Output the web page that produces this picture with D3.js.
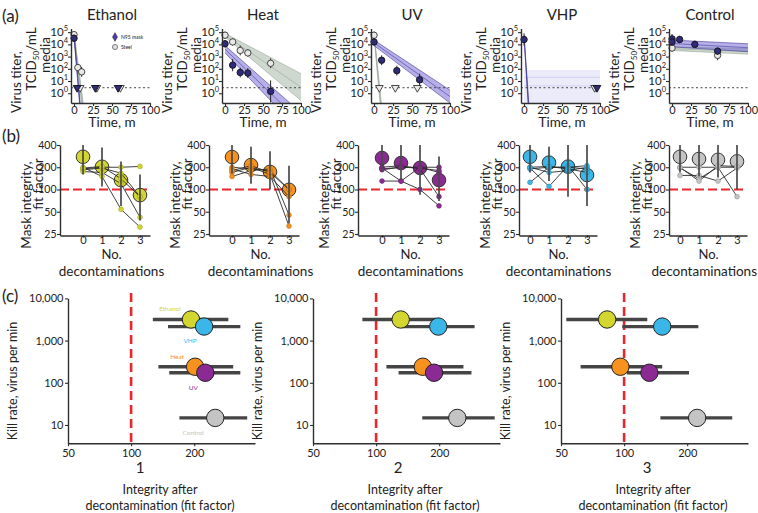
<!DOCTYPE html>
<html lang="en">
<head>
<meta charset="UTF-8">
<title>Mask decontamination</title>
<script src="https://d3js.org/d3.v7.min.js"></script>
<style>
  body { margin: 0; background: #fff; }
  svg { display: block; font-family: Lato, "Open Sans", sans-serif; fill: #222; }
</style>
</head>
<body>
<svg width="758" height="513" id="canvas"></svg>
<script>
// panels in order
const treatments = ["Ethanol", "Heat", "UV", "VHP", "Control"];
const treatColor = ["#d3d62e", "#f7921f", "#8c2a93", "#3ab7e8", "#c4c4c4"];

// (a) virus titer, log10 TCID50/mL : [time m, log10 titer, +/- err]
const timeTicks = [0, 25, 50, 75, 100];
const titerExp = [0, 1, 2, 3, 4, 5];
const detectLimit = 0.45;
const maskTiter = [
  [[0, 4.5, 0.3]],
  [[0, 4.05, 0.3], [10, 2.3, 0.5], [20, 1.7, 0.4], [30, 1.65, 0.4], [60, 0.15, 0.9]],
  [[0, 4.2, 0.3], [10, 2.7, 0.4], [30, 1.85, 0.4], [60, 1.1, 0.5]],
  [[0, 4.4, 0.5]],
  [[0, 4.45, 0.4], [0, 4.2, 0.3], [10, 4.4, 0.3], [30, 4.0, 0.3], [60, 3.45, 0.3]]
];
const steelTiter = [
  [[0, 4.8, 0.2], [5, 2.1, 0.3], [10, 1.75, 0.4]],
  [[0, 4.75, 0.3], [10, 4.2, 0.3], [20, 3.5, 0.4], [30, 3.3, 0.3], [60, 2.45, 0.4]],
  [[0, 4.75, 0.3]],
  [],
  [[0, 3.7, 0.3], [60, 3.1, 0.4]]
];
const maskBelowLimit = [[4, 28, 58], [], [], [96], []];
const steelBelowLimit = [[8, 30, 61], [], [7, 28, 57], [93], []];
// fitted decay bands: [lower intercept, upper intercept, lower slope, upper slope]
const maskFit = [
  [4.6, 4.8, -0.75, -0.70],
  [3.3, 3.9, -0.065, -0.055],
  [3.9, 4.35, -0.047, -0.041],
  [4.5, 4.8, -1.0, -0.9],
  [3.8, 4.35, -0.004, -0.003]
];
const steelFit = [
  [4.7, 5.0, -0.56, -0.48],
  [4.6, 4.9, -0.052, -0.033],
  [4.6, 5.0, -0.68, -0.6],
  null,
  [3.5, 3.8, -0.003, -0.0015]
];
const vhpPlateau = [-0.8, 1.9];

// (b) mask integrity (fit factor) after 0..3 decontaminations
const decons = [0, 1, 2, 3];
const fitTicks = [25, 50, 100, 200, 400];
const maskIntegrity = [
  [[190, 200, 200, 205], [200, 150, 54, 31], [185, 195, 166, 80], [175, 170, 120, 42], [195, 205, 140, 80]],
  [[200, 190, 180, 100], [170, 200, 160, 32], [150, 180, 190, 45], [190, 160, 150, 80], [180, 210, 170, 100]],
  [[190, 200, 200, 200], [130, 130, 100, 60], [200, 210, 190, 80], [195, 130, 200, 170], [185, 200, 195, 180]],
  [[125, 200, 200, 190], [195, 110, 210, 100], [200, 170, 180, 200], [190, 200, 200, 210], [200, 205, 190, 170]],
  [[200, 200, 200, 200], [195, 140, 200, 80], [155, 155, 130, 195], [200, 130, 210, 205]]
];
const meanIntegrity = [[277, 203, 134, 84], [275, 214, 173, 99], [267, 228, 196, 134], [277, 231, 204, 157], [277, 259, 252, 240]];
const integrityLo = [[160, 110, 60, 38], [165, 120, 100, 35], [175, 135, 85, 70], [170, 130, 80, 60], [170, 150, 145, 100]];
const integrityHi = [[400, 370, 240, 160], [400, 380, 330, 210], [400, 400, 400, 280], [400, 380, 400, 400], [400, 400, 400, 400]];

// (c) kill rate vs integrity after 1, 2, 3 decontaminations
const killRate = [3162, 240, 173, 2154, 14.7];
const killTicks = [10, 100, 1000, 10000];
const integrityTicks = [50, 100, 200];
const afterMean = [[193, 202, 226, 223, 252], [131, 167, 189, 198, 244], [83, 96, 132, 152, 223]];
const afterLo = [[127, 135, 152, 150, 170], [86, 112, 128, 134, 166], [53, 62, 103, 98, 149]];
const afterHi = [[291, 307, 332, 332, 358], [193, 261, 285, 295, 368], [129, 152, 204, 226, 328]];

const svg = d3.select("#canvas");
const ink = "#2e2e2e";
const red = "#e8262b";

function styleAxis(sel, fs) {
  sel.attr("font-family", null).attr("font-size", fs);
  sel.select(".domain").attr("stroke", ink).attr("stroke-width", 1.4);
  sel.selectAll(".tick line").attr("stroke", ink).attr("stroke-width", 1.1);
  sel.selectAll(".tick text").attr("fill", "#222");
}
function rotText(g, txt, x, y, fs) {
  return g.append("text").attr("transform", `translate(${x},${y}) rotate(-90)`)
    .attr("text-anchor", "middle").attr("font-size", fs).text(txt);
}

svg.append("text").attr("x", 2).attr("y", 22).attr("font-size", 17).text("(a)");
svg.append("text").attr("x", 2).attr("y", 142).attr("font-size", 17).text("(b)");
svg.append("text").attr("x", 2).attr("y", 302).attr("font-size", 17).text("(c)");

// ---------- (a) ----------
const aAxisX = [71, 222, 371, 521, 669];
const purple = "#6f62d2", purpleDark = "#3a3094", sage = "#a7b8a8";

treatments.forEach((name, i) => {
  const ax = aAxisX[i];
  const x = d3.scaleLinear().domain([-4, 100]).range([ax, ax + 79]);
  const y = d3.scaleLinear().domain([-0.8, 5.3]).range([103, 28.5]);
  const g = svg.append("g");

  g.append("clipPath").attr("id", "clipA" + i).append("rect")
    .attr("x", x(0)).attr("y", y(5.3)).attr("width", x(100) - x(0)).attr("height", y(-0.8) - y(5.3));
  const plot = g.append("g").attr("clip-path", `url(#clipA${i})`);

  const band = (f, fill, op, lineCol) => {
    const lo = t => f[0] + f[2] * t, hi = t => f[1] + f[3] * t;
    const ts = [0, 100];
    plot.append("path").datum(ts)
      .attr("d", d3.area().x(t => x(t)).y0(t => y(lo(t))).y1(t => y(hi(t))))
      .attr("fill", fill).attr("opacity", op);
    [lo, hi, t => (lo(t) + hi(t)) / 2].forEach(fn => {
      plot.append("path").datum(ts)
        .attr("d", d3.line().x(t => x(t)).y(t => y(fn(t))))
        .attr("fill", "none").attr("stroke", lineCol).attr("stroke-width", 1).attr("opacity", 0.55);
    });
  };
  if (i === 3) {
    plot.append("rect").attr("x", x(0)).attr("width", x(100) - x(0))
      .attr("y", y(vhpPlateau[1])).attr("height", y(vhpPlateau[0]) - y(vhpPlateau[1]))
      .attr("fill", purple).attr("opacity", 0.13);
    [1.3, 0.6].forEach(v => plot.append("line").attr("x1", x(0)).attr("x2", x(100))
      .attr("y1", y(v)).attr("y2", y(v)).attr("stroke", purple).attr("opacity", 0.2));
  }
  if (steelFit[i]) band(steelFit[i], sage, 0.55, "#8fa291");
  band(maskFit[i], purple, 0.5, purpleDark);

  // limit of detection
  g.append("line").attr("x1", ax).attr("x2", x(100)).attr("y1", y(detectLimit)).attr("y2", y(detectLimit))
    .attr("stroke", "#444").attr("stroke-width", 1).attr("stroke-dasharray", "2,2.5");

  const tri = d3.symbol(d3.symbolTriangle, 26);
  const drawPts = (pts, below, fill, stroke) => {
    pts.forEach(p => {
      g.append("line").attr("x1", x(p[0])).attr("x2", x(p[0]))
        .attr("y1", y(p[1] - p[2])).attr("y2", y(p[1] + p[2])).attr("stroke", "#222").attr("stroke-width", 1);
      g.append("circle").attr("cx", x(p[0])).attr("cy", y(p[1])).attr("r", 3.2)
        .attr("fill", fill).attr("stroke", stroke).attr("stroke-width", 0.9);
    });
    below.forEach(t => {
      g.append("path").attr("d", tri()).attr("transform", `translate(${x(t)},${y(detectLimit)}) rotate(180)`)
        .attr("fill", fill).attr("stroke", stroke).attr("stroke-width", 0.9);
    });
  };
  drawPts(steelTiter[i], steelBelowLimit[i], "#e9e9e9", "#333");
  drawPts(maskTiter[i], maskBelowLimit[i], "#302c7c", "#111");

  // axes
  const ya = g.append("g").attr("transform", `translate(${ax},0)`)
    .call(d3.axisLeft(y).tickValues(titerExp).tickSize(3).tickSizeOuter(0).tickFormat(""));
  styleAxis(ya, 11);
  titerExp.forEach(e => {
    const t = g.append("text").attr("x", ax - 3).attr("y", y(e) + 4).attr("text-anchor", "end").attr("font-size", 11.5);
    t.append("tspan").text("10");
    t.append("tspan").attr("dy", -5).attr("font-size", 7.5).text(e);
  });
  const xa = g.append("g").attr("transform", "translate(0,103)")
    .call(d3.axisBottom(x).tickValues(timeTicks).tickSize(3).tickSizeOuter(0));
  styleAxis(xa, 11);
  xa.selectAll(".tick text").attr("y", 2.7);

  g.append("text").attr("x", x(50)).attr("y", 20).attr("text-anchor", "middle").attr("font-size", 15).text(name);
  g.append("text").attr("x", x(50)).attr("y", 127).attr("text-anchor", "middle").attr("font-size", 13.5).text("Time, m");

  rotText(g, "Virus titer,", ax - 50, 82, 13.5);
  const tc = g.append("text").attr("transform", `translate(${ax - 35},59) rotate(-90)`)
    .attr("text-anchor", "middle").attr("font-size", 13.5);
  tc.append("tspan").text("TCID");
  tc.append("tspan").attr("dy", 3).attr("font-size", 8).text("50");
  tc.append("tspan").attr("dy", -3).text("/mL");
  rotText(g, "media", ax - 21, 55, 13.5);

  if (i === 0) {
    g.append("path").attr("d", d3.symbol(d3.symbolDiamond, 22)())
      .attr("transform", `translate(${ax + 44},37)`).attr("fill", "#4a3fa6").attr("stroke", "#222").attr("stroke-width", 0.5);
    g.append("text").attr("x", ax + 50).attr("y", 38.8).attr("font-size", 5).text("N95 mask");
    g.append("circle").attr("cx", ax + 44).attr("cy", 47).attr("r", 2.6)
      .attr("fill", "#ddd").attr("stroke", "#555").attr("stroke-width", 0.7);
    g.append("text").attr("x", ax + 50).attr("y", 48.8).attr("font-size", 5).text("Steel");
  }
});

// ---------- (b) ----------
const bAxisX = [60, 209, 358, 519, 669];
const bZeroX = [83, 232, 382, 530, 680];
const step = 19;

treatments.forEach((name, i) => {
  const ax = bAxisX[i], z = bZeroX[i];
  const x = d3.scaleLinear().domain([(ax - z) / step, 3 + 10 / step]).range([ax, z + 3 * step + 10]);
  const y = d3.scaleLog().base(2).domain([24, 400]).range([235.3, 145]);
  const g = svg.append("g");
  const col = treatColor[i];
  const darker = d3.color(col).darker(0.8);

  g.append("line").attr("x1", ax).attr("x2", x.range()[1]).attr("y1", y(100)).attr("y2", y(100))
    .attr("stroke", red).attr("stroke-width", 2).attr("stroke-dasharray", "9,4");

  g.selectAll(".mean").data(meanIntegrity[i]).join("circle")
    .attr("cx", (d, k) => x(decons[k])).attr("cy", d => y(d)).attr("r", 6.8)
    .attr("fill", col).attr("stroke", "#333").attr("stroke-width", 1);

  const line = d3.line().x((d, k) => x(decons[k])).y(d => y(d));
  maskIntegrity[i].forEach(m => {
    g.append("path").datum(m).attr("d", line).attr("fill", "none").attr("stroke", "#2a2a2a").attr("stroke-width", 0.9);
  });
  maskIntegrity[i].forEach(m => {
    g.selectAll(null).data(m).join("circle")
      .attr("cx", (d, k) => x(decons[k])).attr("cy", d => y(d)).attr("r", 2.4)
      .attr("fill", col).attr("stroke", darker).attr("stroke-width", 0.6);
  });

  decons.forEach((d, k) => {
    g.append("line").attr("x1", x(d)).attr("x2", x(d))
      .attr("y1", y(integrityLo[i][k])).attr("y2", y(integrityHi[i][k]))
      .attr("stroke", "#4a4a4a").attr("stroke-width", 2).attr("opacity", 0.85);
  });

  const ya = g.append("g").attr("transform", `translate(${ax},0)`)
    .call(d3.axisLeft(y).tickValues(fitTicks).tickSize(3).tickPadding(0.5).tickSizeOuter(0).tickFormat(d3.format("d")));
  styleAxis(ya, 10.5);
  const xa = g.append("g").attr("transform", "translate(0,235.5)")
    .call(d3.axisBottom(x).tickValues(decons).tickSize(2).tickSizeOuter(0).tickFormat(d3.format("d")));
  styleAxis(xa, 11);
  xa.selectAll(".tick text").attr("y", 0.5);

  g.append("text").attr("x", x(1.5)).attr("y", 259).attr("text-anchor", "middle").attr("font-size", 13).text("No.");
  const dt = g.append("text").attr("x", x(1.5)).attr("y", 275.5).attr("text-anchor", "middle").attr("font-size", 13.5).text("decontaminations");
  const half = dt.node().getComputedTextLength() / 2;
  if (x(1.5) + half > 757) dt.attr("x", 757 - half);
  rotText(g, "Mask integrity,", ax - 29, 205, 13.5);
  rotText(g, "fit factor", ax - 17.5, 184, 13.5);
});

// ---------- (c) ----------
const cAxisX = [68, 313, 561];
const cNumDx = [72, 85, 86];
const drawOrder = [0, 3, 1, 2, 4];
const labelOff = [[-21, -8], [-18, -8], [-12, 17], [-14, 16], [-22, 17]];

afterMean.forEach((means, p) => {
  const ax = cAxisX[p];
  const x = d3.scaleLog().base(2).domain([50, 390]).range([ax, ax + 187]);
  const y = d3.scaleLog().domain([3.7, 10000]).range([443.2, 298.4]);
  const g = svg.append("g");

  g.append("line").attr("x1", x(100)).attr("x2", x(100)).attr("y1", 293).attr("y2", 443)
    .attr("stroke", red).attr("stroke-width", 2.6).attr("stroke-dasharray", "9,5");

  drawOrder.forEach(k => {
    g.append("line").attr("x1", x(afterLo[p][k])).attr("x2", x(afterHi[p][k]))
      .attr("y1", y(killRate[k])).attr("y2", y(killRate[k]))
      .attr("stroke", "#454545").attr("stroke-width", 3.3);
  });
  drawOrder.forEach(k => {
    g.append("circle").attr("cx", x(means[k])).attr("cy", y(killRate[k])).attr("r", 8.7)
      .attr("fill", treatColor[k]).attr("stroke", "#222").attr("stroke-width", 1);
  });
  if (p === 0) {
    treatments.forEach((name, k) => {
      g.append("text").attr("x", x(means[k]) + labelOff[k][0]).attr("y", y(killRate[k]) + labelOff[k][1])
        .attr("text-anchor", "middle").attr("font-size", 6.5).attr("fill", treatColor[k]).text(name);
    });
  }

  const ya = g.append("g").attr("transform", `translate(${ax},0)`)
    .call(d3.axisLeft(y).tickValues(killTicks).tickSize(3).tickPadding(1.5).tickSizeOuter(0).tickFormat(d3.format(",")));
  styleAxis(ya, 11);
  const xa = g.append("g").attr("transform", "translate(0,443.2)")
    .call(d3.axisBottom(x).tickValues(integrityTicks).tickSize(3).tickSizeOuter(0).tickFormat(d3.format("d")));
  styleAxis(xa, 11);
  xa.selectAll(".tick text").attr("y", 5.6);

  g.append("text").attr("x", ax + cNumDx[p]).attr("y", 473).attr("text-anchor", "middle").attr("font-size", 15).text(p + 1);
  g.append("text").attr("x", ax + 92).attr("y", 494).attr("text-anchor", "middle").attr("font-size", 12.5).text("Integrity after");
  g.append("text").attr("x", ax + 92).attr("y", 510).attr("text-anchor", "middle").attr("font-size", 12.5).text("decontamination (fit factor)");
  rotText(g, "Kill rate, virus per min", ax - 51, 381, 12.5);
});
</script>
</body>
</html>
